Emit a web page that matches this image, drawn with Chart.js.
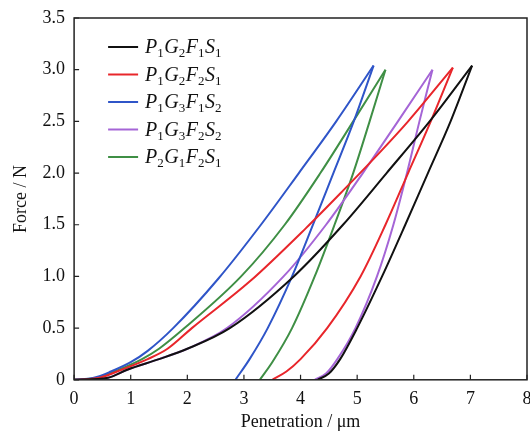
<!DOCTYPE html>
<html>
<head>
<meta charset="utf-8">
<script src="https://cdn.jsdelivr.net/npm/chart.js@4/dist/chart.umd.min.js"></script>
<style>
  html, body { margin: 0; padding: 0; background: #fff; overflow: hidden; }
  #wrap { width: 545px; height: 435px; }
</style>
</head>
<body>
<div id="wrap"><canvas id="chart"></canvas></div>
<script>
// sample names: [letter, subscript] pairs
const sampleNames = [
  [['P','1'],['G','2'],['F','1'],['S','1']],
  [['P','1'],['G','2'],['F','2'],['S','1']],
  [['P','1'],['G','3'],['F','1'],['S','2']],
  [['P','1'],['G','3'],['F','2'],['S','2']],
  [['P','2'],['G','1'],['F','2'],['S','1']]
];
const sampleColors = ['#111111', '#e8262b', '#2f55c8', '#a565d6', '#3f8f45'];

const xTickValues = [0, 1, 2, 3, 4, 5, 6, 7, 8];
const yTickValues = [0, 0.5, 1.0, 1.5, 2.0, 2.5, 3.0, 3.5];

// loading branches [penetration um, force N]
const p1g2f1s1Load = [[0,0],[0.6,0.02],[0.95,0.1],[1.5,0.2],[2.0,0.3],[2.75,0.5],[3.88,1.0],[4.75,1.5],[5.52,2.0],[6.28,2.5],[7.03,3.04]];
const p1g2f2s1Load = [[0,0],[0.45,0.02],[0.85,0.1],[1.3,0.2],[1.65,0.3],[2.08,0.5],[3.1,0.95],[4.1,1.47],[4.75,1.83],[5.4,2.2],[5.9,2.5],[6.69,3.02]];
const p1g3f1s2Load = [[0,0],[0.35,0.02],[0.65,0.08],[1.0,0.17],[1.3,0.28],[1.75,0.5],[2.55,0.98],[3.3,1.5],[3.97,2.0],[4.63,2.5],[5.29,3.04]];
const p1g3f2s2Load = [[0,0],[0.6,0.02],[0.95,0.1],[1.5,0.2],[2.0,0.3],[2.7,0.5],[3.7,1.0],[4.45,1.5],[5.1,2.0],[5.72,2.5],[6.33,3.0]];
const p2g1f2s1Load = [[0,0],[0.4,0.02],[0.8,0.1],[1.2,0.2],[1.5,0.3],[1.95,0.5],[2.95,1.0],[3.72,1.5],[4.35,2.0],[4.93,2.5],[5.5,3.0]];

// unloading branches, listed from residual depth up to the peak
const p1g2f1s1Unload = [[4.3,0],[4.5,0.06],[4.7,0.2],[5.0,0.5],[5.44,1.0],[5.85,1.5],[6.25,2.0],[6.65,2.5],[7.03,3.04]];
const p1g2f2s1Unload = [[3.5,0],[3.75,0.08],[4.0,0.2],[4.47,0.5],[5.06,1.0],[5.5,1.5],[5.9,2.0],[6.3,2.5],[6.69,3.02]];
const p1g3f1s2Unload = [[2.85,0],[3.1,0.2],[3.42,0.5],[3.85,1.0],[4.22,1.5],[4.58,2.0],[4.94,2.5],[5.29,3.04]];
const p1g3f2s2Unload = [[4.25,0],[4.45,0.06],[4.65,0.2],[4.97,0.5],[5.35,1.0],[5.64,1.5],[5.88,2.0],[6.1,2.5],[6.33,3.0]];
const p2g1f2s1Unload = [[3.28,0],[3.5,0.17],[3.85,0.5],[4.25,1.0],[4.6,1.5],[4.93,2.0],[5.22,2.5],[5.5,3.0]];

const loads = [p1g2f1s1Load, p1g2f2s1Load, p1g3f1s2Load, p1g3f2s2Load, p2g1f2s1Load];
const unloads = [p1g2f1s1Unload, p1g2f2s1Unload, p1g3f1s2Unload, p1g3f2s2Unload, p2g1f2s1Unload];

const serif = "'Liberation Serif', 'Times New Roman', serif";
const toPts = arr => arr.map(p => ({ x: p[0], y: p[1] }));

const datasets = [];
loads.forEach((ld, i) => {
  const name = sampleNames[i].map(p => p[0] + p[1]).join('');
  [ld, unloads[i]].forEach(branch => {
    datasets.push({
      label: name,
      data: toPts(branch),
      borderColor: sampleColors[i],
      borderWidth: 2,
      pointRadius: 0,
      showLine: true,
      cubicInterpolationMode: 'monotone',
      fill: false
    });
  });
});

// frame + inward ticks
const framePlugin = {
  id: 'frame',
  afterDatasetsDraw(chart) {
    const { ctx, chartArea: a, scales } = chart;
    ctx.save();
    ctx.strokeStyle = '#222';
    ctx.lineWidth = 1.5;
    ctx.strokeRect(a.left, a.top, a.right - a.left, a.bottom - a.top);
    ctx.lineWidth = 1.2;
    ctx.beginPath();
    xTickValues.forEach(v => {
      const px = scales.x.getPixelForValue(v);
      ctx.moveTo(px, a.bottom);
      ctx.lineTo(px, a.bottom - 5);
    });
    yTickValues.forEach(v => {
      const py = scales.y.getPixelForValue(v);
      ctx.moveTo(a.left, py);
      ctx.lineTo(a.left + 5, py);
    });
    ctx.stroke();
    ctx.restore();
  }
};

// legend with subscripts
const legendPlugin = {
  id: 'subLegend',
  afterDraw(chart) {
    const { ctx, chartArea: a } = chart;
    ctx.save();
    sampleNames.forEach((parts, i) => {
      const y = a.top + 29 + i * 27.5;
      ctx.strokeStyle = sampleColors[i];
      ctx.lineWidth = 2;
      ctx.beginPath();
      ctx.moveTo(a.left + 34, y);
      ctx.lineTo(a.left + 64, y);
      ctx.stroke();
      let x = a.left + 71;
      ctx.fillStyle = '#111';
      ctx.textBaseline = 'alphabetic';
      parts.forEach(([letter, sub]) => {
        ctx.font = 'italic 20px ' + serif;
        ctx.fillText(letter, x, y + 6);
        x += ctx.measureText(letter).width;
        ctx.font = '13px ' + serif;
        ctx.fillText(sub, x, y + 10);
        x += ctx.measureText(sub).width + 0.5;
      });
    });
    ctx.restore();
  }
};

new Chart(document.getElementById('chart'), {
  type: 'scatter',
  data: { datasets },
  options: {
    responsive: true,
    maintainAspectRatio: false,
    animation: false,
    layout: { padding: { top: 3, right: 18, bottom: 0, left: 6 } },
    plugins: { legend: { display: false }, tooltip: { enabled: false } },
    scales: {
      x: {
        type: 'linear',
        min: 0, max: 8,
        afterBuildTicks: s => { s.ticks = xTickValues.map(v => ({ value: v })); },
        ticks: { color: '#111', font: { family: serif, size: 18 }, padding: 9, maxRotation: 0 },
        grid: { drawOnChartArea: false, drawTicks: false },
        border: { display: false },
        title: { display: true, text: 'Penetration / μm', color: '#111', font: { family: serif, size: 18 }, padding: { top: -8, bottom: 2 } }
      },
      y: {
        type: 'linear',
        min: 0, max: 3.5,
        afterBuildTicks: s => { s.ticks = yTickValues.map(v => ({ value: v })); },
        ticks: {
          color: '#111', font: { family: serif, size: 18, lineHeight: 1 }, padding: 9,
          callback: v => v === 0 ? '0' : v.toFixed(1)
        },
        grid: { drawOnChartArea: false, drawTicks: false },
        border: { display: false },
        title: { display: true, text: 'Force / N', color: '#111', font: { family: serif, size: 18 }, padding: { bottom: 2 } }
      }
    }
  },
  plugins: [framePlugin, legendPlugin]
});
</script>
</body>
</html>
